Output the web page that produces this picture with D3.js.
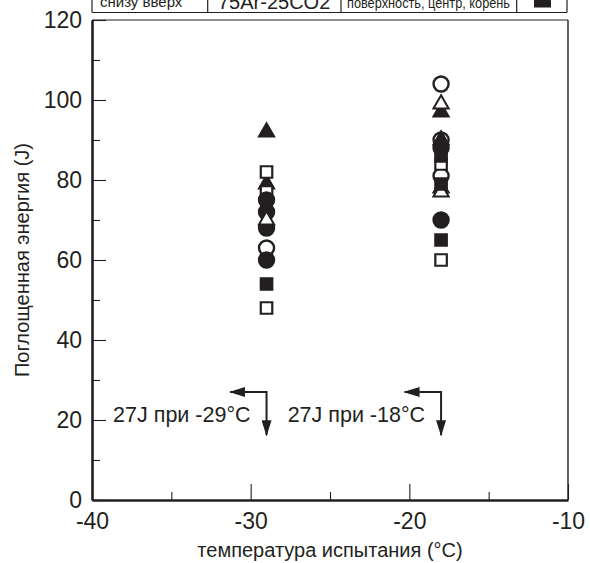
<!DOCTYPE html>
<html>
<head>
<meta charset="utf-8">
<script src="https://d3js.org/d3.v7.min.js"></script>
<style>
  body { margin: 0; background: #fff; }
  text { font-family: "Liberation Sans", Arial, sans-serif; fill: #231f20; }
</style>
</head>
<body>
<div id="chart"></div>
<script>
// absorbed energy readings, [test temperature °C, energy J], one array per marker
const openCircle     = [[-29, 63], [-18, 104], [-18, 90], [-18, 81]];
const filledTriangle = [[-29, 92], [-29, 79], [-18, 97], [-18, 90], [-18, 78]];
const openSquare     = [[-29, 82], [-29, 77], [-29, 48], [-18, 84], [-18, 60]];
const filledCircle   = [[-29, 75], [-29, 72], [-29, 68], [-29, 60], [-18, 88], [-18, 70]];
const openTriangle   = [[-29, 70], [-18, 99], [-18, 77]];
const filledSquare   = [[-29, 54], [-18, 86], [-18, 79], [-18, 65]];

const xTicks = [-40, -30, -20, -10];
const xMinor = [-35, -25, -15];
const yTicks = [0, 20, 40, 60, 80, 100, 120];
const yMinor = [10, 30, 50, 70, 90, 110];

// 27J requirement notes
const notes = [
  { t: -29, e: 27, label: "27J при -29°C" },
  { t: -18, e: 27, label: "27J при -18°C" }
];

const legendCells = ["снизу вверх", "75Ar-25CO2", "поверхность, центр, корень"];

const W = 590, H = 563;
const margin = { top: 20, right: 22, bottom: 63, left: 92 };
const width = W - margin.left - margin.right;
const height = H - margin.top - margin.bottom;
const ink = "#231f20";

const svg = d3.select("#chart").append("svg")
  .attr("width", W).attr("height", H);

const defs = svg.append("defs");
defs.append("marker")
  .attr("id", "head")
  .attr("viewBox", "0 0 16 10")
  .attr("refX", 15).attr("refY", 5)
  .attr("markerUnits", "userSpaceOnUse")
  .attr("markerWidth", 16).attr("markerHeight", 10)
  .attr("orient", "auto")
  .append("path")
  .attr("d", "M0,0 L16,5 L0,10 Z")
  .attr("fill", ink);

const g = svg.append("g")
  .attr("transform", "translate(" + margin.left + "," + margin.top + ")");

const x = d3.scaleLinear().domain([-40, -10]).range([0, width]);
const y = d3.scaleLinear().domain([0, 120]).range([height, 0]);
const plain = d => String(d);   // keep hyphen minus like the original

// frame: thin top/right
g.append("line").attr("x1", 0).attr("x2", width).attr("y1", 0).attr("y2", 0)
  .attr("stroke", ink).attr("stroke-width", 1.2);
g.append("line").attr("x1", width).attr("x2", width).attr("y1", 0).attr("y2", height)
  .attr("stroke", ink).attr("stroke-width", 1.4);

// y axis
g.append("g")
  .call(d3.axisLeft(y).tickValues(yTicks).tickFormat(plain)
    .tickSize(-14).tickSizeOuter(0).tickPadding(10));
g.append("g")
  .call(d3.axisLeft(y).tickValues(yMinor).tickSize(-8).tickSizeOuter(0).tickFormat(""))
  .select(".domain").remove();

// x axis
g.append("g")
  .attr("transform", "translate(0," + height + ")")
  .call(d3.axisBottom(x).tickValues(xTicks).tickFormat(plain)
    .tickSize(-16).tickSizeOuter(0).tickPadding(13));
g.append("g")
  .attr("transform", "translate(0," + height + ")")
  .call(d3.axisBottom(x).tickValues(xMinor).tickSize(-8).tickSizeOuter(0).tickFormat(""))
  .select(".domain").remove();

g.selectAll(".domain").attr("stroke", ink).attr("stroke-width", 2.6);
g.selectAll(".tick line").attr("stroke", ink).attr("stroke-width", 1.1);
g.selectAll(".tick text")
  .style("font-family", '"Liberation Sans", Arial, sans-serif')
  .style("font-size", "23px")
  .attr("fill", ink);

// axis titles
g.append("text")
  .attr("x", width / 2)
  .attr("y", height + 57)
  .attr("text-anchor", "middle")
  .style("font-size", "20px")
  .text("температура испытания (°C)");

g.append("text")
  .attr("transform", "rotate(-90)")
  .attr("x", -height / 2)
  .attr("y", -margin.left + 29)
  .attr("text-anchor", "middle")
  .style("font-size", "20px")
  .text("Поглощенная энергия (J)");

// notes with arrows
notes.forEach(function(n) {
  g.append("line")
    .attr("x1", x(n.t)).attr("y1", y(n.e))
    .attr("x2", x(n.t - 2.3)).attr("y2", y(n.e))
    .attr("stroke", ink).attr("stroke-width", 2)
    .attr("marker-end", "url(#head)");
  g.append("line")
    .attr("x1", x(n.t)).attr("y1", y(n.e) - 1)
    .attr("x2", x(n.t)).attr("y2", y(n.e - 10.8))
    .attr("stroke", ink).attr("stroke-width", 2)
    .attr("marker-end", "url(#head)");
  g.append("text")
    .attr("x", x(n.t) - 16)
    .attr("y", y(n.e) + 30)
    .attr("text-anchor", "end")
    .style("font-size", "21.5px")
    .text(n.label);
});

// markers
const sym = d3.symbol();
function drawSeries(data, type, size, filled, sw) {
  g.append("g").selectAll("path")
    .data(data)
    .enter()
    .append("path")
    .attr("transform", d => "translate(" + x(d[0]) + "," + y(d[1]) + ")")
    .attr("d", sym.type(type).size(size)())
    .attr("fill", filled ? ink : "#fff")
    .attr("stroke", ink)
    .attr("stroke-width", sw);
}
drawSeries(openCircle, d3.symbolCircle, 177, false, 2.4);
drawSeries(filledTriangle, d3.symbolTriangle, 100, true, 2);
drawSeries(openSquare, d3.symbolSquare, 132, false, 2.2);
drawSeries(filledCircle, d3.symbolCircle, 177, true, 2.4);
drawSeries(openTriangle, d3.symbolTriangle, 100, false, 2);
drawSeries(filledSquare, d3.symbolSquare, 132, true, 2.2);

// legend row (cut at the top of the picture)
const leg = svg.append("g");
const cellX = [92, 207.7, 341, 516.7, 567];
cellX.forEach(function(cx) {
  leg.append("line").attr("x1", cx).attr("x2", cx).attr("y1", -5).attr("y2", 12.5)
    .attr("stroke", ink).attr("stroke-width", 1.2);
});
leg.append("line").attr("x1", 92).attr("x2", 567).attr("y1", 12.5).attr("y2", 12.5)
  .attr("stroke", ink).attr("stroke-width", 1.2);
leg.append("text").attr("x", 100).attr("y", 7).style("font-size", "15px").text(legendCells[0]);
leg.append("text").attr("x", 218).attr("y", 8.5).style("font-size", "20px").text(legendCells[1]);
leg.append("text").attr("x", 347).attr("y", 8).style("font-size", "15px")
  .attr("textLength", 163).attr("lengthAdjust", "spacingAndGlyphs")
  .text(legendCells[2]);
leg.append("rect").attr("x", 534).attr("y", -9).attr("width", 17).attr("height", 16.5)
  .attr("fill", ink);
</script>
</body>
</html>
